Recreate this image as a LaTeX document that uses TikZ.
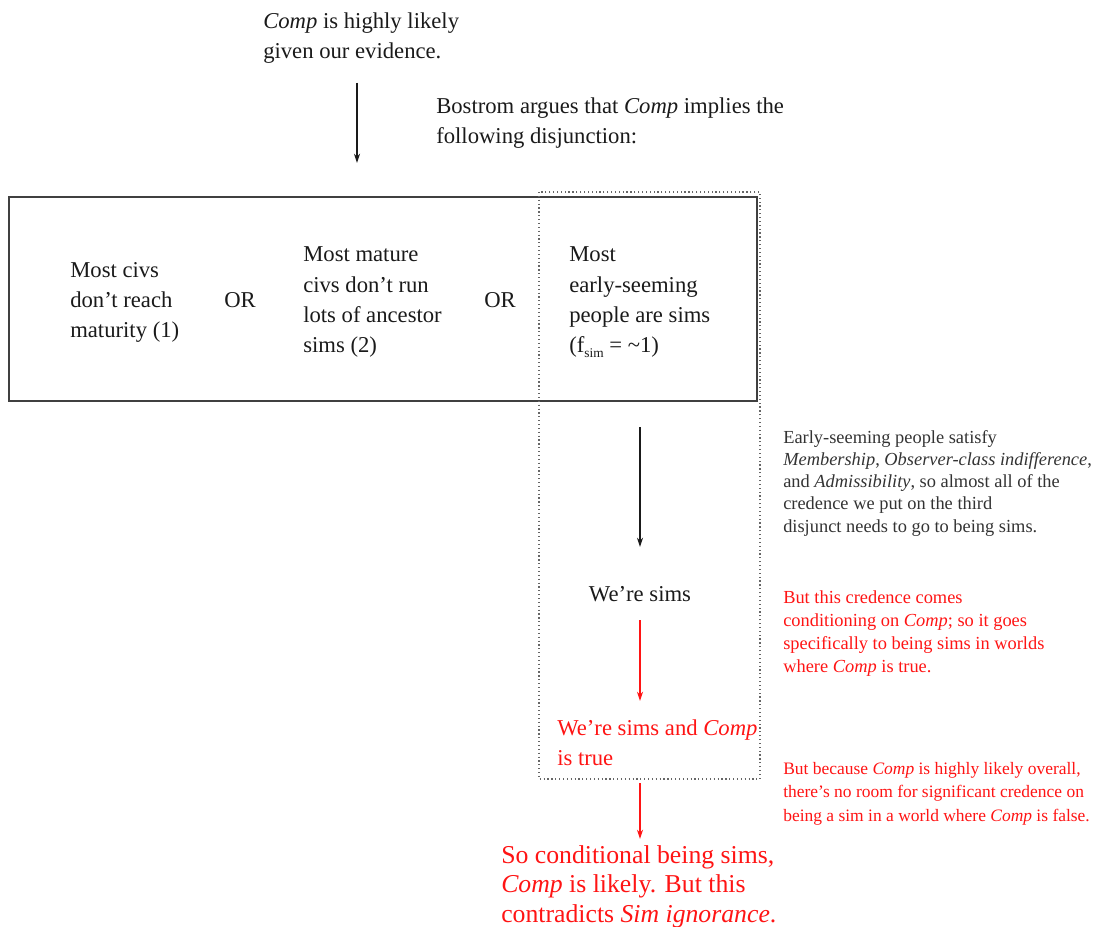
\documentclass[tikz,border=0pt]{standalone}
\usepackage{fontspec}
\setmainfont{Liberation Serif}
\usetikzlibrary{arrows.meta}
\definecolor{txt}{HTML}{1A1A1A}
\definecolor{notec}{HTML}{333333}
\definecolor{redc}{HTML}{FF1414}
\begin{document}
\begin{tikzpicture}[x=0.75pt,y=-0.75pt,
  big/.style={font=\fontsize{17}{22.5}\selectfont, inner sep=0pt, anchor=base west, align=left, text=txt},
  small/.style={font=\fontsize{13.8}{16.6}\selectfont, inner sep=0pt, anchor=base west, align=left, text=notec},
  arr/.style={-{Stealth[length=7pt,width=4.5pt]}, line width=0.9pt},
  solidbox/.style={draw=black!75, line width=1.2pt},
  dotbox/.style={draw=black!60, dotted, line width=0.9pt}
]
\useasboundingbox (0,0) rectangle (1103,927);

% frames
\draw[solidbox] (9,197) rectangle (757,401);
\draw[dotbox] (539,192) rectangle (760,779);

% top texts (anchors at baseline of last line)
\node[big] (comp) at (263,59) {\textit{Comp} is highly likely\\given our evidence.};
\node[big] (bost) at (436,144) {Bostrom argues that \textit{Comp} implies the\\following disjunction:};

% disjuncts
\node[big] (d1) at (70,337) {Most civs\\don’t reach\\maturity (1)};
\node[big, anchor=base] (or1) at (240,307) {OR};
\node[big] (d2) at (303,352) {Most mature\\civs don’t run\\lots of ancestor\\sims (2)};
\node[big, anchor=base] (or2) at (500,307) {OR};
\node[big] (d3) at (569,352) {Most\\early-seeming\\people are sims\\(f\raisebox{-0.55ex}{\fontsize{10}{10}\selectfont sim} = \textasciitilde1)};

% chain
\node[big, anchor=base] (sims) at (640,601) {We’re sims};
\node[big, text=redc] (simscomp) at (557,765) {We’re sims and \textit{Comp}\\is true};
\node[big, text=redc, font=\fontsize{19.3}{21.9}\selectfont] (concl) at (501,922) {So conditional being sims,\\\textit{Comp} is likely. But this\\contradicts \textit{Sim ignorance}.};

% notes
\node[small] (n1) at (783,532) {Early-seeming people satisfy\\\textit{Membership}, \textit{Observer-class indifference},\\and \textit{Admissibility}, so almost all of the\\credence we put on the third\\disjunct needs to go to being sims.};
\node[small, text=redc, font=\fontsize{13.8}{17.2}\selectfont] (n2) at (783,672) {But this credence comes\\conditioning on \textit{Comp}; so it goes\\specifically to being sims in worlds\\where \textit{Comp} is true.};
\node[small, text=redc, font=\fontsize{13.1}{17.6}\selectfont] (n3) at (783,821) {But because \textit{Comp} is highly likely overall,\\there’s no room for significant credence on\\being a sim in a world where \textit{Comp} is false.};

% arrows
\coordinate (a1s) at (357,83);
\coordinate (a1e) at (357,163);
\coordinate (a2s) at (640,427);
\coordinate (a2e) at (640,547);
\coordinate (a3s) at (640,620);
\coordinate (a3e) at (640,701);
\coordinate (a4s) at (640,783);
\coordinate (a4e) at (640,839);
\draw[arr, draw=txt, fill=txt] (a1s) -- (a1e);
\draw[arr, draw=txt, fill=txt] (a2s) -- (a2e);
\draw[arr, draw=redc, fill=redc] (a3s) -- (a3e);
\draw[arr, draw=redc, fill=redc] (a4s) -- (a4e);
\end{tikzpicture}
\end{document}
